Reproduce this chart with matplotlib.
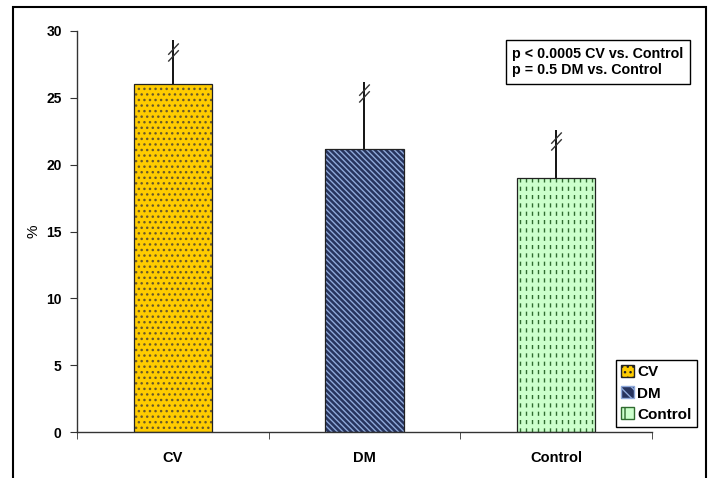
import numpy as np
import matplotlib
matplotlib.use("Agg")
import matplotlib.pyplot as plt
from matplotlib.patches import Patch, Rectangle
from matplotlib.path import Path

plt.rcParams['font.family'] = ['Liberation Sans', 'DejaVu Sans']
plt.rcParams['hatch.linewidth'] = 1.0

# data
groups = ["CV", "DM", "Control"]
values = [26.0, 21.2, 19.0]
errors = [3.3, 5.0, 3.6]
colors = ["#FFCC00", "#27345E", "#CCFFCC"]
hatch_cols = ["#6B5A2A", "#8FA9DA", "#CCFFCC"]
yticks = [0, 5, 10, 15, 20, 25, 30]
stats = "p < 0.0005 CV vs. Control\np = 0.5 DM vs. Control"

fig = plt.figure(figsize=(7.09, 4.78), dpi=100)
ax = fig.add_axes([77/709, 1-432/478, (652-77)/709, (432-31)/478])

x = np.arange(len(groups))
# edgecolor carries the hatch colour; outlines are drawn on top afterwards
bars = ax.bar(x, values, width=0.41, color=colors, edgecolor=hatch_cols, linewidth=0, zorder=2)
bars[0].set_hatch("...")
bars[1].set_hatch("\\" * 6)

# control bar: dashed vertical lines
cb = bars[2]
xs = np.arange(cb.get_x() + 0.018, cb.get_x() + cb.get_width(), 0.031)
vl = ax.vlines(xs, 0, cb.get_height(), colors="#2F6B2F", linewidth=1.0,
               linestyles=(0, (3, 3)), zorder=3)
vl.set_clip_path(cb)

for b in bars:
    ax.add_patch(Rectangle((b.get_x(), 0), b.get_width(), b.get_height(),
                           fill=False, edgecolor="#222222", linewidth=0.9, zorder=4))

# upper error bars, no caps, with break marks
tops = np.array(values) + np.array(errors)
ax.vlines(x, values, tops, colors="black", linewidth=1.3, zorder=3)
brk = Path([(-0.35, -0.6), (0.35, 0.15), (-0.35, -0.15), (0.35, 0.6)],
           [Path.MOVETO, Path.LINETO, Path.MOVETO, Path.LINETO])
ax.plot(x, tops - 0.85, linestyle="none", marker=brk, markersize=13,
        markeredgecolor="#333333", markeredgewidth=1.0, zorder=4)

ax.set_xlim(-0.5, 2.5)
ax.set_ylim(0, 30)
ax.set_yticks(yticks)
ax.set_yticklabels([str(t) for t in yticks], fontweight="bold", fontsize=10)
ax.set_xticks(x)
ax.set_xticklabels(groups, fontweight="bold", fontsize=10.5)
ax.set_xticks([-0.5, 0.5, 1.5, 2.5], minor=True)
ax.tick_params(axis="x", which="major", length=0, pad=14)
ax.tick_params(axis="x", which="minor", length=5, direction="out", color="#333333")
ax.tick_params(axis="y", length=5, direction="out", color="#333333", pad=6)
ax.spines["top"].set_visible(False)
ax.spines["right"].set_visible(False)
for s in ("left", "bottom"):
    ax.spines[s].set_color("#333333")
    ax.spines[s].set_linewidth(1.0)
ax.set_ylabel("%", fontsize=11, labelpad=4)

# stats box
fig.text(512/709, 1-62/478, stats, fontsize=10.3, fontweight="bold", va="center", ha="left",
         linespacing=1.2,
         bbox=dict(boxstyle="square,pad=0.45", facecolor="white", edgecolor="black", linewidth=1.0))

# legend
handles = [
    Patch(facecolor=colors[0], edgecolor="#222222", hatch="..."),
    Patch(facecolor=colors[1], edgecolor="#8FA9DA", hatch="\\\\\\"),
    Patch(facecolor=colors[2], edgecolor="#2F6B2F", hatch="|"),
]
leg = fig.legend(handles, groups, loc="upper left", bbox_to_anchor=(616/709, 1-360/478),
                 frameon=True, fancybox=False, edgecolor="black", framealpha=1,
                 handlelength=0.8, handleheight=0.8, handletextpad=0.25,
                 borderpad=0.35, labelspacing=0.45, borderaxespad=0,
                 prop={"weight": "bold", "size": 11})
leg.get_frame().set_linewidth(1.0)

# outer frame
fig.patches.append(Rectangle((13/709, -0.1), (706-13)/709, 1.1 - 7/478, transform=fig.transFigure,
                             fill=False, edgecolor="black", linewidth=1.5))

fig.savefig("out.png", dpi=100)
